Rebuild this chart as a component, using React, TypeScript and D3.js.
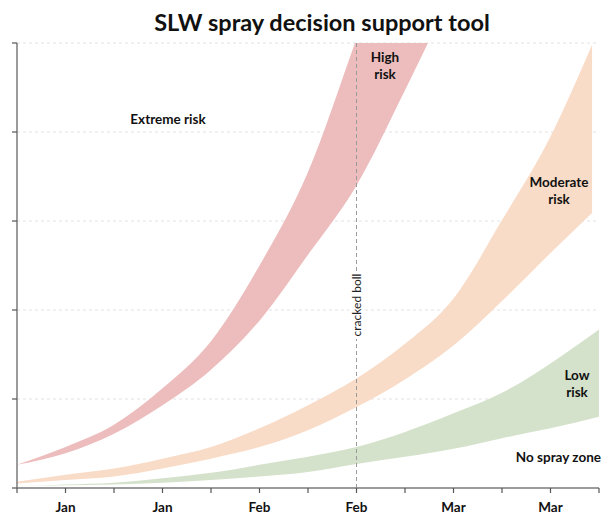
import React from 'react';
import * as d3 from 'd3';

// weekly dates (Sunday ticks) across the season
const weeks = [
  '2023-01-01', '2023-01-08', '2023-01-15', '2023-01-22', '2023-01-29', '2023-02-05', '2023-02-12',
  '2023-02-19', '2023-02-26', '2023-03-05', '2023-03-12', '2023-03-19', '2023-03-26',
];
const tickLabels = ['', 'Jan', '', 'Jan', '', 'Feb', '', 'Feb', '', 'Mar', '', 'Mar', ''];
const yTicks = [0, 1, 2, 3, 4, 5];

// band edges
const redDates = weeks.slice(0, 10);
const redHigh = [0.26, 0.46, 0.71, 1.12, 1.65, 2.5, 3.55, 5.05, 6.6, 8.2];
const redLow = [0.26, 0.39, 0.61, 0.93, 1.33, 1.88, 2.62, 3.4, 4.47, 5.6];

const orangeDates = [...weeks.slice(0, 12), '2023-03-25'];
const orangeHigh = [0.07, 0.15, 0.22, 0.33, 0.46, 0.67, 0.93, 1.23, 1.62, 2.13, 3.01, 3.95, 4.98];
const orangeLow = [0.05, 0.09, 0.13, 0.22, 0.33, 0.46, 0.65, 0.91, 1.22, 1.6, 2.1, 2.64, 3.09];

const greenDates = weeks;
const greenHigh = [0.02, 0.04, 0.06, 0.11, 0.17, 0.26, 0.35, 0.46, 0.63, 0.84, 1.07, 1.4, 1.78];
const greenLow = [0.02, 0.03, 0.04, 0.06, 0.09, 0.13, 0.18, 0.27, 0.35, 0.44, 0.56, 0.67, 0.8];

const crackedBoll = '2023-02-19';

const W = 607;
const H = 515;
const left = 17, right = 599, top = 43, bottom = 488;
const font = 'Lato, "Open Sans", sans-serif';

const parse = (s: string) => new Date(s + 'T00:00:00');

const App = () => {
  const x = d3.scaleTime().domain([parse(weeks[0]), parse(weeks[weeks.length - 1])]).range([left, right]);
  const y = d3.scaleLinear().domain([0, 5]).range([bottom, top]);

  const band = (dates: string[], hi: number[], lo: number[]) => {
    const rows = dates.map((d, i) => ({ d: parse(d), hi: hi[i], lo: lo[i] }));
    return d3.area<any>()
      .x(r => x(r.d))
      .y0(r => y(r.lo))
      .y1(r => y(r.hi))
      .curve(d3.curveMonotoneX)(rows) as string;
  };

  const bands = [
    { path: band(redDates, redHigh, redLow), fill: '#edbdbe' },
    { path: band(orangeDates, orangeHigh, orangeLow), fill: '#f9dcc7' },
    { path: band(greenDates, greenHigh, greenLow), fill: '#d5e2cb' },
  ];

  const cx = x(parse(crackedBoll));
  const labelStyle = { fontFamily: font, fontWeight: 700, fontSize: 13.5, fill: '#111' } as const;

  return (
    <div style={{ position: 'absolute', left: 0, top: 0 }}>
      <svg width={W} height={H} style={{ display: 'block', background: '#fff' }}>
        <defs>
          <clipPath id="plot">
            <rect x={left - 6} y={top} width={right - left + 6} height={bottom - top} />
          </clipPath>
        </defs>

        <text x={322} y={31} textAnchor="middle" fontFamily={font} fontWeight={700} fontSize={23.5} fill="#111">
          SLW spray decision support tool
        </text>

        {yTicks.slice(1).map(t => (
          <line key={t} x1={left} x2={right} y1={y(t)} y2={y(t)} stroke="#e2e2e2" strokeDasharray="3,3" />
        ))}

        <g clipPath="url(#plot)">
          {bands.map((b, i) => <path key={i} d={b.path} fill={b.fill} />)}
        </g>

        <line x1={cx} x2={cx} y1={top} y2={bottom} stroke="#9a9a9a" strokeDasharray="4,3" />
        <rect x={cx - 7} y={271} width={14} height={68} fill="#fff" />
        <text transform={`translate(${cx + 4},305) rotate(-90)`} textAnchor="middle"
          fontFamily={font} fontSize={12} fill="#222">cracked boll</text>

        <line x1={left} x2={left} y1={top} y2={bottom} stroke="#7a7a7a" strokeWidth={1.5} />
        {yTicks.map(t => (
          <line key={t} x1={left - 5} x2={left} y1={y(t)} y2={y(t)} stroke="#555" strokeWidth={1.2} />
        ))}
        <line x1={left} x2={right} y1={bottom} y2={bottom} stroke="#7a7a7a" strokeWidth={1.5} />
        {weeks.map((w, i) => (
          <g key={w}>
            <line x1={x(parse(w))} x2={x(parse(w))} y1={bottom} y2={bottom + 5} stroke="#555" strokeWidth={1.2} />
            {tickLabels[i] && (
              <text x={x(parse(w))} y={511.5} textAnchor="middle" {...labelStyle}>{tickLabels[i]}</text>
            )}
          </g>
        ))}

        <text x={168} y={124} textAnchor="middle" {...labelStyle}>Extreme risk</text>
        <text x={385} y={62} textAnchor="middle" {...labelStyle}>High</text>
        <text x={385} y={79} textAnchor="middle" {...labelStyle}>risk</text>
        <text x={559} y={187} textAnchor="middle" {...labelStyle}>Moderate</text>
        <text x={559} y={204} textAnchor="middle" {...labelStyle}>risk</text>
        <text x={577} y={380} textAnchor="middle" {...labelStyle}>Low</text>
        <text x={577} y={397} textAnchor="middle" {...labelStyle}>risk</text>
        <text x={601} y={462} textAnchor="end" {...labelStyle}>No spray zone</text>
      </svg>
    </div>
  );
};

export default App;
